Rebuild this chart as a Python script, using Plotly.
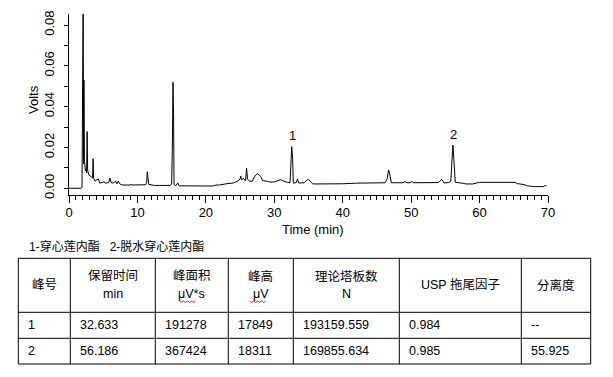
import plotly.graph_objects as go

# ---------------- data ----------------
time_min = [0, 1.8, 1.9, 1.97, 2.02, 2.07, 2.13, 2.18, 2.25, 2.3, 2.4, 2.5, 2.58, 2.65, 2.72,
            2.9, 3.1, 3.3, 3.45, 3.52, 3.6, 3.8, 4.1, 4.3, 4.5, 4.8, 5.1, 5.4, 5.8, 6.0, 6.15,
            6.5, 6.8, 7.0, 7.2, 7.4, 7.8, 9.0, 9.1, 9.2, 10.0, 10.1, 10.2, 11.2, 11.35, 11.45,
            11.55, 11.65, 12.5, 13.0, 13.2, 14.8, 15.0, 15.1, 15.2, 15.28, 15.35, 15.6, 15.9,
            16.1, 18.0, 21.0, 21.5, 22.0, 23.0, 24.0, 24.7, 25.0, 25.1, 25.2, 25.5, 25.8, 25.95,
            26.1, 26.4, 26.8, 27.2, 27.6, 28.0, 28.3, 29.0, 29.5, 30.0, 30.5, 30.9, 31.3, 31.8,
            32.3, 32.45, 32.55, 32.68, 32.78, 33.2, 33.4, 33.55, 34.4, 34.7, 35.0, 35.3, 35.6,
            36.0, 38.0, 40.0, 42.0, 46.2, 46.5, 46.7, 46.9, 47.1, 48.8, 49.1, 49.4, 49.9, 50.1,
            50.3, 54.0, 54.3, 54.5, 54.8, 55.5, 55.8, 55.95, 56.1, 56.25, 56.45, 57.5, 58.0,
            59.0, 59.5, 60.0, 65.2, 65.5, 66.5, 67.0, 68.0, 69.3, 69.5, 69.8]
volts = [0, 0, 0.0005, 0.0735, 0.012, 0.095, 0.012, 0.053, 0.014, 0.009, 0.0085, 0.0095, 0.0075,
         0.0278, 0.009, 0.0065, 0.0062, 0.0055, 0.005, 0.0145, 0.005, 0.0035, 0.0042, 0.0045,
         0.0025, 0.003, 0.0032, 0.0025, 0.0028, 0.005, 0.0028, 0.0025, 0.0035, 0.0022, 0.0035,
         0.0022, 0.0016, 0.0016, 0.002, 0.0016, 0.0016, 0.0019, 0.0016, 0.0017, 0.003, 0.0081,
         0.005, 0.0019, 0.0014, 0.0012, 0.0014, 0.0014, 0.0019, 0.019, 0.052, 0.0368, 0.0018,
         0.0012, 0.0026, 0.0012, 0.0011, 0.0011, 0.0016, 0.0016, 0.0022, 0.0026, 0.0036, 0.0045,
         0.006, 0.0042, 0.0048, 0.0036, 0.0098, 0.0045, 0.0034, 0.0035, 0.0062, 0.0072, 0.0058,
         0.0038, 0.0034, 0.003, 0.0031, 0.0038, 0.0042, 0.0036, 0.003, 0.0028, 0.011, 0.0204,
         0.0145, 0.0025, 0.0028, 0.0046, 0.0026, 0.0027, 0.0038, 0.0044, 0.0032, 0.0022, 0.0021,
         0.0021, 0.0022, 0.0025, 0.0027, 0.0047, 0.009, 0.0065, 0.0027, 0.0027, 0.0033, 0.0027,
         0.0027, 0.0035, 0.0027, 0.0028, 0.004, 0.0044, 0.0026, 0.0028, 0.0035, 0.0147, 0.0212,
         0.014, 0.0029, 0.0025, 0.0021, 0.0021, 0.0024, 0.0029, 0.0029, 0.0023, 0.0018, 0.0012,
         0.0008, 0.0008, 0.0012, 0.0012]

peak_labels = ["1", "2"]
peak_rt = [32.633, 56.186]
peak_top = [0.0204, 0.0212]

x_tick_vals = [0, 10, 20, 30, 40, 50, 60, 70]
y_tick_vals = [0.00, 0.02, 0.04, 0.06, 0.08]

compound_legend = "1-穿心莲内酯   2-脱水穿心莲内酯"
header_line1 = ["峰号", "保留时间", "峰面积", "峰高", "理论塔板数", "USP 拖尾因子", "分离度"]
header_line2 = ["", "min", "μV*s", "μV", "N", "", ""]
row_peak = ["1", "2"]
row_rt = ["32.633", "56.186"]
row_area = ["191278", "367424"]
row_height = ["17849", "18311"]
row_plates = ["193159.559", "169855.634"]
row_tailing = ["0.984", "0.985"]
row_resolution = ["--", "55.925"]

# ---------------- layout helpers ----------------
W, H = 613, 377
ML, MR, MT, MB = 69, 65, 14, 182
PW, PH = W - ML - MR, H - MT - MB


def px(xp, yp):
    return (xp - ML) / PW, (H - MB - yp) / PH


FONT = "Liberation Sans, Arial, Noto Sans CJK SC, sans-serif"

fig = go.Figure()
fig.add_trace(go.Scatter(x=time_min, y=volts, mode="lines",
                         line=dict(color="black", width=1), hoverinfo="skip",
                         showlegend=False))

annotations = []
for lab, rt, top in zip(peak_labels, peak_rt, peak_top):
    annotations.append(dict(x=rt, y=top, xref="x", yref="y", text=lab, showarrow=False,
                            yanchor="middle", yshift=11, font=dict(family=FONT, size=13, color="black")))

# axis titles
x0, y0 = px(313, 229)
annotations.append(dict(x=x0, y=y0, xref="paper", yref="paper", text="Time (min)", showarrow=False,
                        xanchor="center", yanchor="middle", font=dict(family=FONT, size=13, color="black")))
x0, y0 = px(33, 100)
annotations.append(dict(x=x0, y=y0, xref="paper", yref="paper", text="Volts", showarrow=False,
                        textangle=-90, xanchor="center", yanchor="middle",
                        font=dict(family=FONT, size=13, color="black")))

# compound legend line
x0, y0 = px(26.5, 246.5)
annotations.append(dict(x=x0, y=y0, xref="paper", yref="paper", text=compound_legend, showarrow=False,
                        xanchor="left", yanchor="middle", font=dict(family=FONT, size=12, color="black")))

# table
col_edges = [18.3, 70.3, 155.3, 228.3, 293.3, 399.3, 521.3, 590.7]
row_edges = [258.3, 312.3, 338.3, 364.0]
shapes = []
for xe in col_edges:
    a, b = px(xe, row_edges[0])
    c, d = px(xe, row_edges[-1])
    shapes.append(dict(type="line", xref="paper", yref="paper", x0=a, y0=b, x1=c, y1=d,
                       line=dict(color="black", width=1)))
for ye in row_edges:
    a, b = px(col_edges[0], ye)
    c, d = px(col_edges[-1], ye)
    shapes.append(dict(type="line", xref="paper", yref="paper", x0=a, y0=b, x1=c, y1=d,
                       line=dict(color="black", width=1)))

hdr_mid = (row_edges[0] + row_edges[1]) / 2
for i in range(7):
    cx = (col_edges[i] + col_edges[i + 1]) / 2
    if header_line2[i]:
        ys = [(header_line1[i], hdr_mid - 9), (header_line2[i], hdr_mid + 9)]
    else:
        ys = [(header_line1[i], hdr_mid)]
    for txt, yy in ys:
        a, b = px(cx, yy)
        annotations.append(dict(x=a, y=b, xref="paper", yref="paper", text=txt, showarrow=False,
                                xanchor="center", yanchor="middle",
                                font=dict(family=FONT, size=12.5, color="black")))

# red wavy spell-check underline under μV units
for xs, xe_ in [(179.5, 195.5), (249.5, 265.5)]:
    pts = []
    xx = xs
    k = 0
    while xx <= xe_:
        a, b = px(xx, 301.5 + (1 if k % 2 else -0.5))
        pts.append((a, b))
        xx += 2
        k += 1
    path = "M " + " L ".join(f"{a:.5f},{b:.5f}" for a, b in pts)
    shapes.append(dict(type="path", xref="paper", yref="paper", path=path,
                       line=dict(color="#e02020", width=1)))

rows = list(zip(row_peak, row_rt, row_area, row_height, row_plates, row_tailing, row_resolution))
for r, row in enumerate(rows):
    cy = (row_edges[r + 1] + row_edges[r + 2]) / 2
    for i, txt in enumerate(row):
        a, b = px(col_edges[i] + 8, cy)
        annotations.append(dict(x=a, y=b, xref="paper", yref="paper", text=txt, showarrow=False,
                                xanchor="left", yanchor="middle",
                                font=dict(family=FONT, size=12.5, color="black")))

fig.update_layout(
    width=W, height=H,
    margin=dict(l=ML, r=MR, t=MT, b=MB, pad=0, autoexpand=False),
    paper_bgcolor="white", plot_bgcolor="white",
    showlegend=False,
    annotations=annotations,
    shapes=shapes,
    xaxis=dict(range=[0, 70], tickvals=x_tick_vals, ticks="outside", ticklen=7, tickcolor="black",
               showline=True, linecolor="black", linewidth=1, showgrid=False, zeroline=False,
               automargin=False, ticklabelstandoff=-2,
               tickfont=dict(family=FONT, size=13, color="black"),
               minor=dict(dtick=1, tick0=0, ticks="outside", ticklen=4, tickcolor="black", showgrid=False)),
    yaxis=dict(range=[-0.0033, 0.0854], tickvals=y_tick_vals, tickformat=".2f", ticks="outside",
               ticklen=4, tickcolor="black", tickangle=-90, automargin=False, ticklabelstandoff=5,
               showline=True, linecolor="black", linewidth=1, showgrid=False, zeroline=False,
               tickfont=dict(family=FONT, size=13, color="black"),
               minor=dict(dtick=0.01, tick0=0, ticks="outside", ticklen=4, tickcolor="black", showgrid=False)),
)

fig.write_html("out.html", config={"displayModeBar": False, "staticPlot": True},
               post_script="document.body.style.margin='0';document.body.style.overflow='hidden';")
